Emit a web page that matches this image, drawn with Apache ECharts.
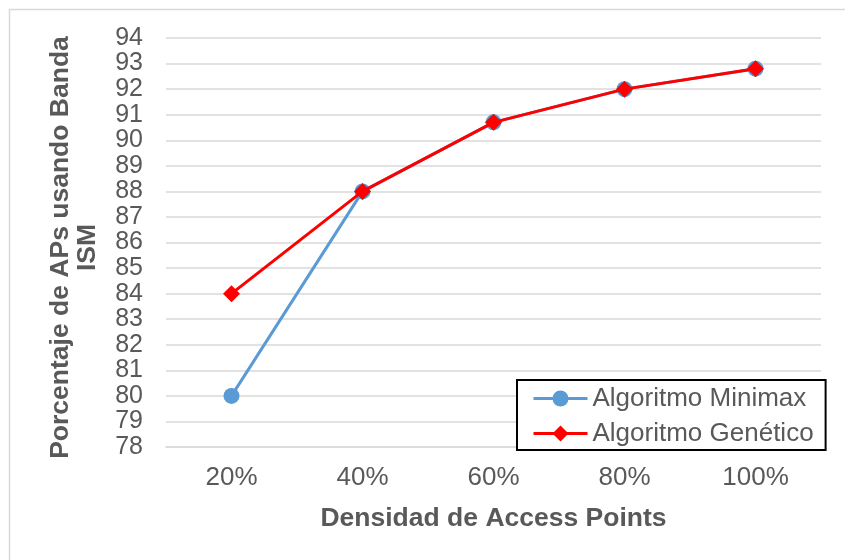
<!DOCTYPE html>
<html>
<head>
<meta charset="utf-8">
<script src="https://cdn.jsdelivr.net/npm/echarts@6/dist/echarts.min.js"></script>
<style>
  html, body { margin: 0; padding: 0; background: #fff; }
  #chart { width: 845px; height: 560px; }
</style>
</head>
<body>
<div id="chart"></div>
<script>
// Density of access points (x categories)
const categories = ['20%', '40%', '60%', '80%', '100%'];
// Percentage of APs using the ISM band
const minimaxValues = [80, 88, 90.7, 92, 92.8];
const geneticValues = [84, 88, 90.7, 92, 92.8];
const yMin = 78, yMax = 94, yStep = 1;

const textColor = '#595959';
const font = 'Arial, "Liberation Sans", sans-serif';

const chart = echarts.init(document.getElementById('chart'), null, { renderer: 'canvas' });

chart.setOption({
  animation: false,
  backgroundColor: '#fff',
  graphic: [{
    // chart-area frame; right and bottom edges fall outside the canvas
    type: 'rect',
    shape: { x: 9.5, y: 9.5, width: 860, height: 580 },
    style: { fill: 'none', stroke: '#d9d9d9', lineWidth: 1.5 },
    silent: true,
    z: -10
  }],
  grid: { left: 166, right: 24, top: 38, bottom: 113, containLabel: false },
  xAxis: {
    type: 'category',
    data: categories,
    boundaryGap: true,
    axisLine: { show: true, lineStyle: { color: '#d9d9d9', width: 1.5 } },
    axisTick: { show: false },
    axisLabel: { color: textColor, fontSize: 26, fontFamily: font, margin: 18 },
    name: 'Densidad de Access Points',
    nameLocation: 'middle',
    nameGap: 58,
    nameTextStyle: { color: textColor, fontSize: 26.5, fontWeight: 'bold', fontFamily: font }
  },
  yAxis: {
    type: 'value',
    min: yMin, max: yMax, interval: yStep,
    axisLine: { show: false },
    axisTick: { show: false },
    splitLine: { lineStyle: { color: '#d9d9d9', width: 1.5 } },
    axisLabel: {
      color: textColor, fontSize: 25, fontFamily: font, margin: 23,
      showMinLabel: true, showMaxLabel: true, hideOverlap: false
    },
    name: 'Porcentaje de APs usando Banda\nISM',
    nameLocation: 'middle',
    nameGap: 65,
    nameRotate: 90,
    nameTextStyle: {
      color: textColor, fontSize: 26.5, fontWeight: 'bold', fontFamily: font,
      lineHeight: 27, align: 'center', padding: [0, 10, 0, 0]
    }
  },
  legend: {
    orient: 'vertical',
    left: 517, top: 380,
    backgroundColor: '#fff',
    borderColor: '#000',
    borderWidth: 2,
    padding: [5, 12, 3, 15],
    itemGap: 8,
    itemWidth: 54,
    itemHeight: 20,
    lineStyle: { width: 3 },
    textStyle: { color: textColor, fontSize: 26, fontFamily: font, lineHeight: 27 },
    data: ['Algoritmo Minimax', 'Algoritmo Genético']
  },
  series: [
    {
      name: 'Algoritmo Minimax',
      type: 'line',
      data: minimaxValues,
      symbol: 'circle',
      symbolSize: 16,
      lineStyle: { color: '#5B9BD5', width: 3 },
      itemStyle: { color: '#5B9BD5' },
      z: 2
    },
    {
      name: 'Algoritmo Genético',
      type: 'line',
      data: geneticValues,
      symbol: 'diamond',
      symbolSize: 17,
      lineStyle: { color: '#FF0000', width: 3 },
      itemStyle: { color: '#FF0000' },
      z: 3
    }
  ]
});
</script>
</body>
</html>
